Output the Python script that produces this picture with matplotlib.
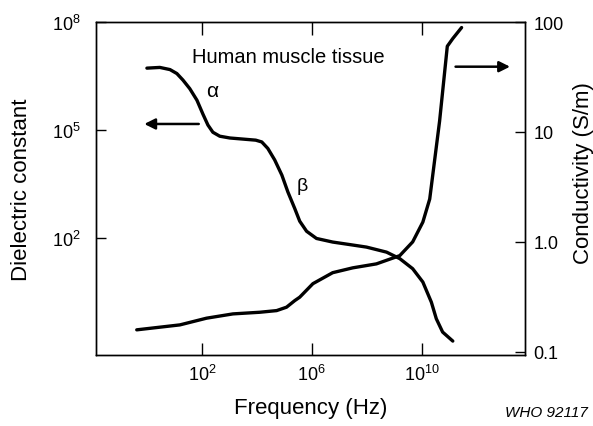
import matplotlib
matplotlib.use('Agg')
import matplotlib.pyplot as plt

plt.rcParams['font.family'] = ['Liberation Sans', 'DejaVu Sans']
plt.rcParams['mathtext.default'] = 'regular'

# dielectric constant vs frequency (left axis) as log10 values
eps_logf = [0.0, 0.47, 0.84, 1.09, 1.31, 1.56, 1.82, 2.04, 2.22, 2.40, 2.65, 3.02,
            3.49, 3.96, 4.18, 4.40, 4.65, 4.91, 5.13, 5.38, 5.56, 5.81, 6.17, 6.76,
            7.38, 7.99, 8.72, 9.20, 9.67, 10.04, 10.35, 10.53, 10.76, 11.13]
eps_loge = [6.72, 6.74, 6.68, 6.57, 6.39, 6.15, 5.83, 5.44, 5.14, 4.94, 4.83, 4.78,
            4.75, 4.72, 4.67, 4.49, 4.17, 3.75, 3.28, 2.82, 2.47, 2.19, 1.99, 1.89,
            1.82, 1.75, 1.61, 1.43, 1.15, 0.78, 0.22, -0.24, -0.61, -0.86]

# conductivity vs frequency (right axis)
sig_logf = [-0.37, 1.20, 2.17, 3.13, 4.11, 4.72, 5.08, 5.38, 5.56, 6.04, 6.76, 7.49,
            8.35, 9.20, 9.67, 10.04, 10.29, 10.65, 10.93, 11.13, 11.45]
sig_logs = [-0.80, -0.755, -0.694, -0.655, -0.64, -0.625, -0.594, -0.534, -0.503, -0.38,
            -0.28, -0.236, -0.20, -0.125, 0.0, 0.18, 0.39, 1.10, 1.78, 1.85, 1.95]

x_ticks = [1e2, 1e6, 1e10]
x_labels = ['$10^{2}$', '$10^{6}$', '$10^{10}$']
eps_ticks = [1e2, 1e5, 1e8]
eps_labels = ['$10^{2}$', '$10^{5}$', '$10^{8}$']
sig_ticks = [0.1, 1.0, 10, 100]
sig_labels = ['0.1', '1.0', '10', '100']

eps_freq = [10 ** v for v in eps_logf]
eps_vals = [10 ** v for v in eps_loge]
sig_freq = [10 ** v for v in sig_logf]
sig_vals = [10 ** v for v in sig_logs]

fig = plt.figure(figsize=(5.93, 4.27), dpi=100)
ax = fig.add_axes([0.162, 0.166, 0.723, 0.780])
ax2 = ax.twinx()

ax.plot(eps_freq, eps_vals, color='black', lw=2.4, solid_capstyle='round', solid_joinstyle='round')
ax2.plot(sig_freq, sig_vals, color='black', lw=2.4, solid_capstyle='round', solid_joinstyle='round')

ax.set_xscale('log')
ax.set_yscale('log')
ax2.set_yscale('log')
ax.set_xlim(10**-1.85, 10**13.75)
ax.set_ylim(10**-1.25, 10**8)
ax2.set_ylim(10**-1.03, 10**2.0)

ax.set_xticks(x_ticks)
ax.set_xticklabels(x_labels, fontsize=13)
ax.xaxis.set_minor_locator(matplotlib.ticker.NullLocator())
ax.set_yticks(eps_ticks)
ax.set_yticklabels(eps_labels, fontsize=13)
ax.yaxis.set_minor_locator(matplotlib.ticker.NullLocator())
ax2.set_yticks(sig_ticks)
ax2.set_yticklabels(sig_labels, fontsize=13)
ax2.yaxis.set_minor_locator(matplotlib.ticker.NullLocator())

ax.tick_params(axis='x', direction='in', length=9, width=1, top=True, pad=6)
ax.tick_params(axis='y', direction='in', length=7, width=1, pad=11)
ax2.tick_params(axis='y', direction='in', length=7, width=1, pad=6)

for a in (ax, ax2):
    for s in a.spines.values():
        s.set_linewidth(1)

ax.set_xlabel('Frequency (Hz)', fontsize=16)
ax.xaxis.set_label_coords(0.5, -0.125)
ax.set_ylabel('Dielectric constant', fontsize=16)
ax.yaxis.set_label_coords(-0.149, 0.5)
ax2.set_ylabel('Conductivity (S/m)', fontsize=16)
ax2.yaxis.set_label_coords(1.112, 0.55)

ax.text(0.448, 0.898, 'Human muscle tissue', transform=ax.transAxes,
        ha='center', va='center', fontsize=14.5)
ax.text(0.270, 0.796, 'α', transform=ax.transAxes, ha='center', va='center', fontsize=15)
ax.text(0.480, 0.508, 'β', transform=ax.transAxes, ha='center', va='center', fontsize=14)

# arrows pointing to the axis each curve belongs to
ax.annotate('', xy=(0.106, 0.694), xytext=(0.246, 0.694), xycoords='axes fraction',
            arrowprops=dict(arrowstyle='-|>', color='black', lw=1.8, mutation_scale=16))
ax.annotate('', xy=(0.972, 0.866), xytext=(0.832, 0.866), xycoords='axes fraction',
            arrowprops=dict(arrowstyle='-|>', color='black', lw=1.8, mutation_scale=16))

fig.text(0.992, 0.033, 'WHO 92117', ha='right', va='center', fontsize=11, style='italic')

fig.savefig('out.png', dpi=100)
